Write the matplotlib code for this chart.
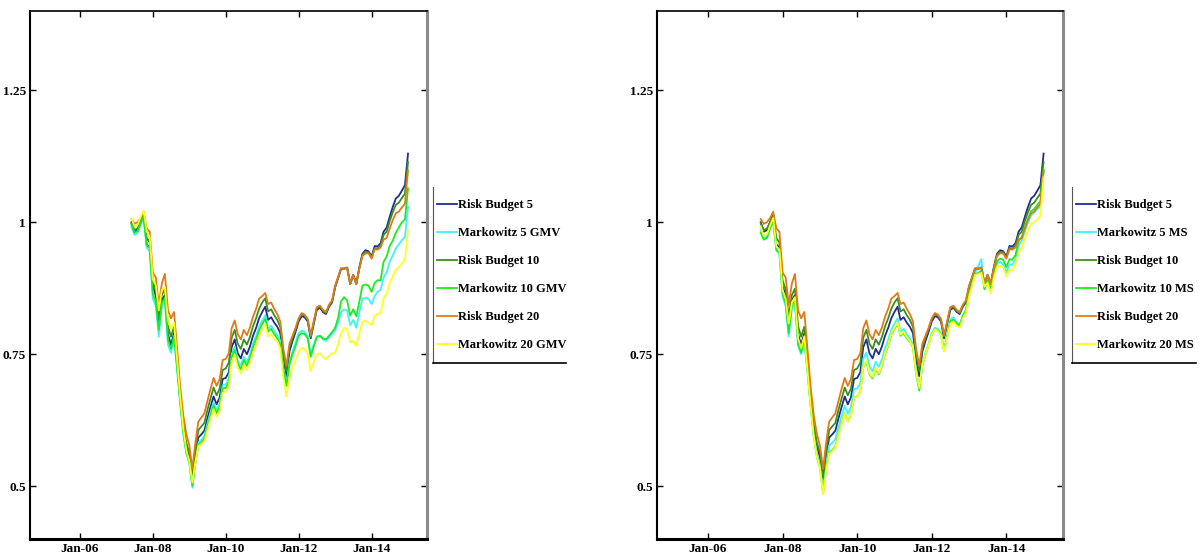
import datetime as dt
import matplotlib
matplotlib.use("Agg")
import matplotlib.pyplot as plt
import matplotlib.dates as mdates
from matplotlib.lines import Line2D
from matplotlib.ticker import FuncFormatter
import pandas as pd

# monthly observations, Jun 2007 .. Jan 2015
months = pd.date_range("2007-06-01", periods=92, freq="MS")

risk_budget_5 = [
    1.000, 0.982, 0.985, 1.000, 1.014, 0.958, 0.952,
    0.880, 0.860, 0.808, 0.852, 0.862, 0.788, 0.768, 0.790, 0.730, 0.665, 0.610, 0.575,
    0.555, 0.513, 0.555, 0.592, 0.598, 0.605, 0.628, 0.650, 0.670, 0.655, 0.668, 0.703,
    0.705, 0.716, 0.763, 0.778, 0.752, 0.742, 0.760, 0.750, 0.765, 0.785, 0.800, 0.818,
    0.830, 0.840, 0.815, 0.820, 0.810, 0.802, 0.790, 0.740, 0.708, 0.755, 0.775, 0.792,
    0.812, 0.822, 0.820, 0.812, 0.780, 0.808, 0.834, 0.838, 0.830, 0.826, 0.840, 0.848,
    0.877, 0.895, 0.912, 0.912, 0.914, 0.883, 0.900, 0.883, 0.915, 0.940, 0.947, 0.945,
    0.935, 0.955, 0.954, 0.960, 0.982, 0.990, 1.010, 1.029, 1.045, 1.050, 1.060, 1.070,
    1.130,
]
risk_budget_10 = [
    0.998, 0.985, 0.988, 1.000, 1.014, 0.970, 0.962,
    0.890, 0.872, 0.820, 0.862, 0.874, 0.803, 0.783, 0.802, 0.740, 0.673, 0.618, 0.583,
    0.563, 0.519, 0.565, 0.606, 0.613, 0.620, 0.644, 0.666, 0.687, 0.672, 0.685, 0.720,
    0.723, 0.734, 0.781, 0.796, 0.770, 0.760, 0.778, 0.768, 0.783, 0.803, 0.818, 0.836,
    0.848, 0.856, 0.831, 0.835, 0.824, 0.815, 0.802, 0.750, 0.718, 0.763, 0.781, 0.797,
    0.816, 0.826, 0.823, 0.815, 0.783, 0.811, 0.837, 0.840, 0.832, 0.828, 0.842, 0.850,
    0.878, 0.896, 0.912, 0.912, 0.914, 0.883, 0.900, 0.883, 0.914, 0.938, 0.944, 0.943,
    0.933, 0.951, 0.950, 0.956, 0.976, 0.982, 1.002, 1.019, 1.033, 1.037, 1.046, 1.054,
    1.114,
]
risk_budget_20 = [
    1.006, 0.997, 1.000, 1.008, 1.020, 0.988, 0.982,
    0.905, 0.895, 0.843, 0.884, 0.902, 0.833, 0.818, 0.830, 0.760, 0.690, 0.635, 0.600,
    0.577, 0.533, 0.580, 0.622, 0.630, 0.638, 0.661, 0.684, 0.705, 0.690, 0.703, 0.739,
    0.741, 0.752, 0.799, 0.814, 0.788, 0.778, 0.796, 0.786, 0.801, 0.821, 0.836, 0.855,
    0.860, 0.866, 0.845, 0.848, 0.836, 0.826, 0.812, 0.760, 0.728, 0.770, 0.785, 0.800,
    0.818, 0.828, 0.825, 0.817, 0.785, 0.813, 0.839, 0.842, 0.834, 0.830, 0.844, 0.852,
    0.880, 0.897, 0.913, 0.912, 0.914, 0.883, 0.900, 0.883, 0.913, 0.936, 0.941, 0.941,
    0.931, 0.949, 0.948, 0.952, 0.967, 0.970, 0.988, 1.004, 1.017, 1.020, 1.028, 1.035,
    1.098,
]
markowitz_5_gmv = [
    0.992, 0.976, 0.979, 0.995, 1.009, 0.952, 0.944,
    0.855, 0.840, 0.783, 0.842, 0.850, 0.768, 0.753, 0.778, 0.720, 0.657, 0.600, 0.563,
    0.543, 0.497, 0.543, 0.582, 0.588, 0.595, 0.618, 0.640, 0.659, 0.644, 0.657, 0.691,
    0.693, 0.704, 0.750, 0.764, 0.738, 0.728, 0.745, 0.735, 0.750, 0.770, 0.785, 0.802,
    0.814, 0.824, 0.799, 0.804, 0.794, 0.786, 0.776, 0.725, 0.695, 0.735, 0.755, 0.772,
    0.790, 0.795, 0.792, 0.785, 0.750, 0.768, 0.784, 0.785, 0.778, 0.775, 0.782, 0.788,
    0.795, 0.810, 0.830, 0.835, 0.832, 0.805, 0.815, 0.800, 0.830, 0.855, 0.857, 0.855,
    0.845, 0.860, 0.868, 0.872, 0.895, 0.905, 0.925, 0.937, 0.950, 0.958, 0.966, 0.972,
    1.029,
]
markowitz_10_gmv = [
    0.996, 0.980, 0.983, 0.998, 1.011, 0.956, 0.952,
    0.865, 0.848, 0.796, 0.847, 0.857, 0.778, 0.760, 0.785, 0.725, 0.660, 0.602, 0.565,
    0.545, 0.501, 0.543, 0.578, 0.583, 0.590, 0.612, 0.634, 0.653, 0.638, 0.650, 0.685,
    0.686, 0.697, 0.743, 0.758, 0.732, 0.721, 0.739, 0.728, 0.743, 0.763, 0.778, 0.795,
    0.807, 0.817, 0.793, 0.798, 0.788, 0.780, 0.768, 0.720, 0.690, 0.730, 0.750, 0.765,
    0.785, 0.790, 0.788, 0.780, 0.745, 0.765, 0.782, 0.785, 0.780, 0.778, 0.785, 0.792,
    0.800, 0.820, 0.850, 0.858, 0.852, 0.823, 0.835, 0.822, 0.850, 0.880, 0.882, 0.880,
    0.868, 0.885, 0.890, 0.890, 0.925, 0.935, 0.955, 0.965, 0.980, 0.990, 1.000, 1.005,
    1.064,
]
markowitz_20_gmv = [
    1.008, 0.992, 0.995, 1.010, 1.022, 0.983, 0.972,
    0.892, 0.880, 0.833, 0.872, 0.877, 0.813, 0.798, 0.810, 0.740, 0.670, 0.610, 0.570,
    0.547, 0.507, 0.543, 0.576, 0.580, 0.585, 0.606, 0.628, 0.646, 0.631, 0.643, 0.677,
    0.679, 0.689, 0.735, 0.750, 0.724, 0.713, 0.730, 0.720, 0.734, 0.753, 0.768, 0.785,
    0.797, 0.807, 0.783, 0.788, 0.778, 0.775, 0.760, 0.705, 0.670, 0.705, 0.725, 0.738,
    0.755, 0.762, 0.760, 0.752, 0.718, 0.735, 0.750, 0.752, 0.745, 0.740, 0.747, 0.752,
    0.752, 0.770, 0.790, 0.800, 0.797, 0.772, 0.775, 0.766, 0.790, 0.812, 0.813, 0.810,
    0.805, 0.822, 0.826, 0.828, 0.855, 0.865, 0.885, 0.897, 0.910, 0.915, 0.922, 0.930,
    0.985,
]
markowitz_5_ms = [
    0.985, 0.970, 0.973, 0.990, 1.004, 0.946, 0.940,
    0.860, 0.840, 0.783, 0.837, 0.847, 0.766, 0.750, 0.775, 0.718, 0.655, 0.600, 0.563,
    0.541, 0.495, 0.540, 0.577, 0.582, 0.589, 0.611, 0.633, 0.652, 0.637, 0.650, 0.684,
    0.685, 0.696, 0.741, 0.753, 0.727, 0.717, 0.736, 0.726, 0.741, 0.762, 0.777, 0.796,
    0.808, 0.818, 0.793, 0.798, 0.788, 0.780, 0.768, 0.718, 0.686, 0.733, 0.753, 0.770,
    0.790, 0.800, 0.798, 0.790, 0.760, 0.788, 0.816, 0.820, 0.810, 0.806, 0.824, 0.834,
    0.865, 0.885, 0.904, 0.917, 0.930, 0.875, 0.890, 0.873, 0.901, 0.922, 0.925, 0.920,
    0.905, 0.920, 0.919, 0.930, 0.957, 0.965, 0.982, 0.999, 1.013, 1.018, 1.025, 1.030,
    1.095,
]
markowitz_10_ms = [
    0.980, 0.967, 0.970, 0.988, 1.002, 0.948, 0.942,
    0.865, 0.845, 0.790, 0.842, 0.852, 0.770, 0.753, 0.778, 0.718, 0.653, 0.595, 0.557,
    0.535, 0.486, 0.530, 0.564, 0.568, 0.575, 0.598, 0.620, 0.638, 0.623, 0.635, 0.668,
    0.670, 0.680, 0.725, 0.736, 0.712, 0.704, 0.722, 0.712, 0.729, 0.750, 0.766, 0.786,
    0.798, 0.808, 0.785, 0.790, 0.780, 0.774, 0.763, 0.713, 0.681, 0.728, 0.749, 0.767,
    0.787, 0.797, 0.795, 0.787, 0.756, 0.784, 0.812, 0.816, 0.808, 0.804, 0.822, 0.832,
    0.863, 0.883, 0.902, 0.904, 0.908, 0.873, 0.890, 0.871, 0.903, 0.926, 0.931, 0.929,
    0.915, 0.930, 0.929, 0.938, 0.964, 0.972, 0.990, 1.007, 1.021, 1.025, 1.033, 1.040,
    1.100,
]
markowitz_20_ms = [
    0.992, 0.974, 0.977, 0.994, 1.008, 0.954, 0.948,
    0.872, 0.854, 0.808, 0.848, 0.858, 0.780, 0.762, 0.784, 0.720, 0.653, 0.595, 0.557,
    0.535, 0.485, 0.527, 0.562, 0.566, 0.573, 0.596, 0.618, 0.637, 0.622, 0.634, 0.668,
    0.669, 0.680, 0.726, 0.738, 0.714, 0.706, 0.724, 0.714, 0.731, 0.752, 0.768, 0.788,
    0.800, 0.810, 0.787, 0.792, 0.782, 0.775, 0.764, 0.715, 0.686, 0.730, 0.750, 0.767,
    0.787, 0.797, 0.794, 0.786, 0.755, 0.782, 0.808, 0.812, 0.804, 0.800, 0.818, 0.828,
    0.859, 0.880, 0.900, 0.902, 0.904, 0.878, 0.885, 0.865, 0.895, 0.915, 0.917, 0.915,
    0.897, 0.910, 0.909, 0.920, 0.942, 0.950, 0.970, 0.984, 0.997, 1.000, 1.005, 1.012,
    1.085,
]

labels_gmv = ["Risk Budget 5", "Markowitz 5 GMV", "Risk Budget 10",
              "Markowitz 10 GMV", "Risk Budget 20", "Markowitz 20 GMV"]
labels_ms = ["Risk Budget 5", "Markowitz 5 MS", "Risk Budget 10",
             "Markowitz 10 MS", "Risk Budget 20", "Markowitz 20 MS"]
colors = ["#1f2e8c", "#3ff2ff", "#3a8f1f", "#1eeb1e", "#e07a18", "#ffff1e"]

y_ticks = [0.5, 0.75, 1, 1.25]
x_tick_years = [2006, 2008, 2010, 2012, 2014]

serif = "Liberation Serif"
W, H = 1200, 560


def draw_panel(ax, series, labels, legend_px):
    lines = []
    for s, c in zip(series, colors):
        ln, = ax.plot(months, s, color=c, lw=1.3)
        lines.append(ln)

    ax.set_xlim(dt.datetime(2004, 8, 19), dt.datetime(2015, 7, 10))
    ax.set_ylim(0.4, 1.4)
    ax.set_xticks([dt.datetime(y, 1, 1) for y in x_tick_years])
    ax.xaxis.set_major_formatter(mdates.DateFormatter("%b-%y"))
    ax.set_yticks(y_ticks)
    ax.yaxis.set_major_formatter(FuncFormatter(lambda v, p: "%g" % v))
    ax.tick_params(direction="in", length=4, width=1, top=True, right=True,
                   labelsize=9.5, pad=3)
    for lab in ax.get_xticklabels() + ax.get_yticklabels():
        lab.set_family(serif)
        lab.set_weight("bold")

    ax.spines["left"].set_linewidth(1.5)
    ax.spines["bottom"].set_linewidth(2.2)
    ax.spines["top"].set_linewidth(1.2)
    ax.spines["right"].set_color("#8a8a8a")
    ax.spines["right"].set_linewidth(2.2)

    # legend with only its left and bottom edge drawn
    x0, y0, x1, y1 = legend_px
    fig = ax.figure
    fig.legend(lines, labels, loc="upper left",
               bbox_to_anchor=(x0 / W + 0.003, 1 - (y0 + 12) / H),
               bbox_transform=fig.transFigure, frameon=False,
               prop={"family": serif, "weight": "bold", "size": 9},
               handlelength=1.6, handletextpad=0.15, labelspacing=1.28,
               borderpad=0, borderaxespad=0)
    fig.add_artist(Line2D([x0 / W, x0 / W], [1 - y0 / H, 1 - y1 / H],
                          transform=fig.transFigure, color="#555555", lw=0.8))
    fig.add_artist(Line2D([x0 / W, x1 / W], [1 - y1 / H, 1 - y1 / H],
                          transform=fig.transFigure, color="black", lw=1.2))


fig = plt.figure(figsize=(12, 5.6), dpi=100)
ax1 = fig.add_axes([30 / W, 1 - 539 / H, 397 / W, 528 / H])
ax2 = fig.add_axes([657 / W, 1 - 539 / H, 406 / W, 528 / H])

draw_panel(ax1, [risk_budget_5, markowitz_5_gmv, risk_budget_10,
                 markowitz_10_gmv, risk_budget_20, markowitz_20_gmv],
           labels_gmv, (433, 187, 566, 363))
draw_panel(ax2, [risk_budget_5, markowitz_5_ms, risk_budget_10,
                 markowitz_10_ms, risk_budget_20, markowitz_20_ms],
           labels_ms, (1072, 187, 1196, 363))

fig.savefig("out.png", dpi=100)
